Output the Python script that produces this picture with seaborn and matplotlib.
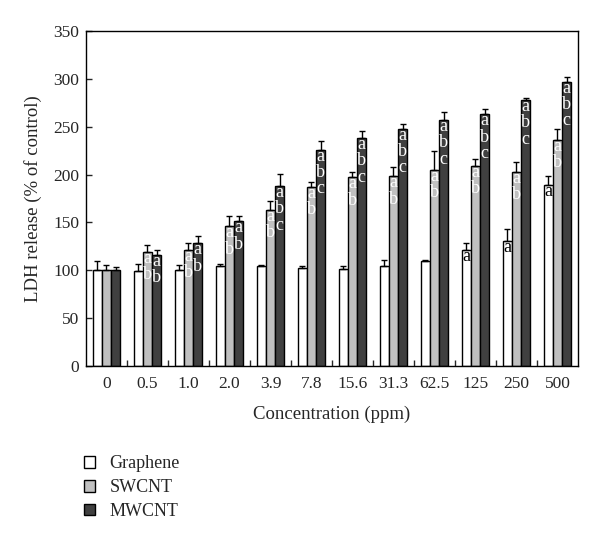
import numpy as np
import pandas as pd
import matplotlib.pyplot as plt
import seaborn as sns
from matplotlib.patches import Patch

# LDH release for three nanomaterials at increasing concentrations
concentrations = ['0', '0.5', '1.0', '2.0', '3.9', '7.8', '15.6', '31.3', '62.5', '125', '250', '500']
materials = ['Graphene', 'SWCNT', 'MWCNT']

graphene = [100, 99, 100, 104, 104, 102, 101, 105, 110, 121, 131, 189]
swcnt = [100, 119, 121, 146, 163, 187, 197, 198, 205, 209, 203, 236]
mwcnt = [100, 116, 128, 151, 188, 226, 238, 248, 257, 263, 278, 297]

graphene_err = [10, 8, 6, 3, 2, 3, 3, 6, 1, 7, 12, 10]
swcnt_err = [6, 7, 8, 11, 9, 5, 6, 10, 20, 7, 10, 12]
mwcnt_err = [3, 5, 8, 6, 13, 9, 8, 5, 8, 6, 2, 5]

# significance letters written inside the bars
graphene_marks = ['', '', '', '', '', '', '', '', '', 'a', 'a', 'a']
swcnt_marks = ['', 'ab', 'ab', 'ab', 'ab', 'ab', 'ab', 'ab', 'ab', 'ab', 'ab', 'ab']
mwcnt_marks = ['', 'ab', 'ab', 'ab', 'abc', 'abc', 'abc', 'abc', 'abc', 'abc', 'abc', 'abc']

colors = ['#ffffff', '#c0c0c0', '#404040']
text_colors = ['black', 'white', 'white']

df = pd.DataFrame({
    'conc': concentrations * 3,
    'material': np.repeat(materials, len(concentrations)),
    'value': graphene + swcnt + mwcnt,
})
errs = [graphene_err, swcnt_err, mwcnt_err]
marks = [graphene_marks, swcnt_marks, mwcnt_marks]

sns.set_theme(style='ticks')
plt.rcParams['font.family'] = ['Liberation Serif', 'DejaVu Serif']

fig = plt.figure(figsize=(6, 5.44), dpi=100)
ax = fig.add_axes([0.1433, 0.3272, 0.82, 0.6158])

sns.barplot(data=df, x='conc', y='value', hue='material', order=concentrations,
            hue_order=materials, palette=colors, edgecolor='black', linewidth=1,
            width=0.68, gap=0, errorbar=None, legend=False, ax=ax, saturation=1)

bar_groups = list(ax.containers)
for i, cont in enumerate(bar_groups):
    xs = [p.get_x() + p.get_width() / 2 for p in cont]
    hs = [p.get_height() for p in cont]
    ax.errorbar(xs, hs, yerr=[np.zeros(len(hs)), errs[i]], fmt='none',
                ecolor='black', elinewidth=1, capsize=2.5, capthick=1, zorder=1)
    for x, h, m in zip(xs, hs, marks[i]):
        if m:
            ax.annotate('\n'.join(m), (x, h), xytext=(0, 1.5), textcoords='offset points',
                        ha='center', va='top', fontsize=13, linespacing=0.95,
                        color=text_colors[i])

ax.set_xlim(-0.5, len(concentrations) - 0.5)
ax.set_ylim(0, 350)
ax.set_yticks(range(0, 351, 50))
ax.set_xticks(np.arange(len(concentrations)))
ax.set_xticklabels(concentrations)
ax.set_xticks(np.arange(0.5, len(concentrations) - 0.5, 1), minor=True)
ax.tick_params(axis='x', which='major', length=0, labelsize=12.5, pad=7)
ax.tick_params(axis='x', which='minor', direction='in', length=4, width=1)
ax.tick_params(axis='y', direction='in', length=4, width=1, labelsize=12.5, pad=5)
for s in ax.spines.values():
    s.set_visible(True)
    s.set_linewidth(1)
    s.set_color('black')

ax.set_xlabel('Concentration (ppm)', fontsize=13.5, labelpad=10)
ax.set_ylabel('LDH release (% of control)', fontsize=13.5, labelpad=8)

handles = [Patch(facecolor=c, edgecolor='black', linewidth=1) for c in colors]
fig.legend(handles, materials, loc='upper left', bbox_to_anchor=(0.14, 0.163),
           frameon=False, fontsize=13, handlelength=0.6, handleheight=0.6,
           handletextpad=0.8, labelspacing=0.38, borderaxespad=0, borderpad=0)

fig.savefig('out.png', dpi=100)
